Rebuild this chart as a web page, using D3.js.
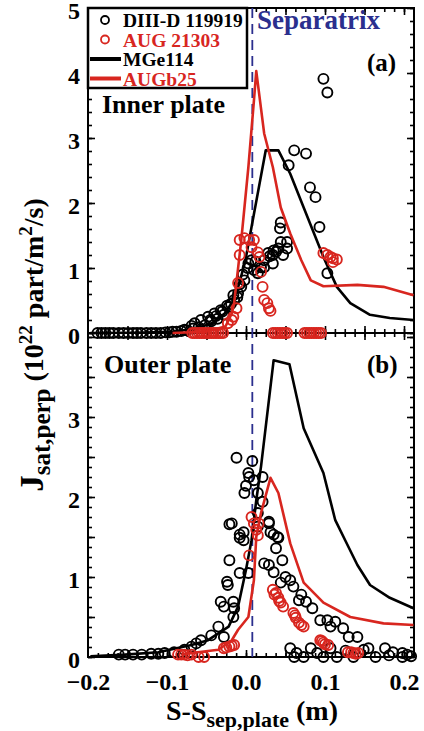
<!DOCTYPE html>
<html>
<head>
<meta charset="utf-8">
<script src="https://cdn.jsdelivr.net/npm/d3@7"></script>
<style>
  body { margin: 0; background: #fff; }
  text { font-family: "Liberation Serif", "Times New Roman", serif; font-weight: bold; }
</style>
</head>
<body>
<div id="chart"></div>
<script>
// tick labels
const xTicks = [-0.2, -0.1, 0.0, 0.1, 0.2];
const yTicksA = [0, 1, 2, 3, 4, 5];
const yTicksB = [0, 1, 2, 3];
const separatrixS = 0.008;

// (a) inner plate, [S-Ssep, Jsat]
const mgeInner = [[-0.197, 0], [-0.143, 0.005], [-0.093, 0.02], [-0.062, 0.07], [-0.042, 0.16], [-0.027, 0.3],
  [-0.017, 0.48], [-0.011, 0.66], [-0.001, 1.1], [0.007, 1.63], [0.025, 2.81], [0.041, 2.81], [0.056, 2.45],
  [0.073, 1.93], [0.098, 1.17], [0.115, 0.71], [0.132, 0.46], [0.157, 0.28], [0.182, 0.23], [0.212, 0.2]];
const augbInner = [[-0.093, 0], [-0.052, 0.02], [-0.026, 0.1], [-0.018, 0.3], [-0.015, 0.46], [-0.006, 1.43],
  [0.003, 2.55], [0.010, 3.57], [0.013, 4.03], [0.023, 3.07], [0.034, 2.55], [0.044, 1.93], [0.056, 1.53],
  [0.070, 1.12], [0.082, 0.81], [0.098, 0.72], [0.141, 0.74], [0.174, 0.71], [0.212, 0.58]];
const diiiInner = [[-0.188, 0], [-0.183, 0], [-0.178, 0], [-0.173, 0], [-0.168, 0], [-0.161, 0], [-0.155, 0],
  [-0.149, 0], [-0.143, 0], [-0.138, 0], [-0.133, 0], [-0.126, 0], [-0.120, 0], [-0.114, 0], [-0.108, 0],
  [-0.102, 0.01], [-0.097, 0.01], [-0.093, 0.02], [-0.088, 0.02], [-0.082, 0.03], [-0.078, 0.05],
  [-0.075, 0.04], [-0.069, 0.11], [-0.067, 0.07], [-0.065, 0.15], [-0.060, 0.09], [-0.057, 0.2], [-0.052, 0.12],
  [-0.048, 0.25], [-0.045, 0.2], [-0.044, 0.18], [-0.040, 0.3], [-0.038, 0.26], [-0.036, 0.22], [-0.032, 0.35],
  [-0.030, 0.33], [-0.028, 0.28], [-0.024, 0.42], [-0.022, 0.4], [-0.019, 0.45], [-0.016, 0.58], [-0.015, 0.51],
  [-0.011, 0.55], [-0.010, 0.61], [-0.008, 0.75], [-0.006, 0.71], [-0.004, 0.9], [-0.002, 0.81], [0.002, 1.0],
  [0.003, 1.07], [0.007, 1.12], [0.010, 0.97], [0.012, 1.1], [0.015, 0.92], [0.019, 1.01], [0.023, 1.01],
  [0.023, 1.12], [0.028, 1.23], [0.030, 1.18], [0.034, 1.07], [0.034, 1.2], [0.035, 1.27], [0.038, 1.25],
  [0.041, 1.3], [0.044, 1.4], [0.047, 1.2], [0.052, 1.3], [0.052, 1.4], [0.043, 1.61], [0.044, 1.7],
  [0.054, 2.58], [0.061, 2.81], [0.076, 2.76], [0.081, 2.24], [0.088, 2.09], [0.093, 1.63], [0.103, 0.92],
  [0.098, 3.91], [0.103, 3.7]];
const augInner = [[-0.068, 0], [-0.065, 0], [-0.062, 0], [-0.059, 0], [-0.056, 0], [-0.053, 0], [-0.050, 0],
  [-0.047, 0], [-0.044, 0], [-0.041, 0], [-0.038, 0], [-0.035, 0], [-0.032, 0], [-0.029, 0],
  [-0.023, 0.15], [-0.018, 0.2], [-0.016, 0.25], [-0.012, 0.38], [-0.010, 0.77], [-0.008, 1.2], [-0.008, 1.43],
  [-0.002, 1.46], [0.004, 1.43], [0.010, 1.43], [0.007, 1.32], [0.015, 1.24], [0.017, 1.17], [0.019, 0.94],
  [0.021, 0.71], [0.023, 0.51], [0.027, 0.46], [0.029, 0.38], [0.031, 0.34],
  [0.034, 0], [0.037, 0], [0.040, 0], [0.043, 0], [0.046, 0], [0.049, 0], [0.052, 0],
  [0.074, 0], [0.077, 0], [0.080, 0], [0.083, 0], [0.086, 0], [0.089, 0], [0.092, 0], [0.095, 0],
  [0.098, 1.23], [0.103, 1.2], [0.107, 1.17], [0.110, 1.15], [0.115, 1.13], [0.110, 1.09]];

// (b) outer plate
const mgeOuter = [[-0.197, 0.01], [-0.153, 0.03], [-0.111, 0.06], [-0.069, 0.15], [-0.048, 0.21], [-0.022, 0.38],
  [-0.010, 0.63], [0.000, 1.09], [0.007, 1.46], [0.013, 1.96], [0.019, 2.38], [0.035, 3.71], [0.055, 3.66],
  [0.073, 2.86], [0.098, 2.3], [0.113, 1.71], [0.126, 1.45], [0.141, 1.15], [0.157, 0.9], [0.182, 0.74], [0.212, 0.61]];
const augbOuter = [[-0.082, 0.03], [-0.069, 0.05], [-0.035, 0.09], [-0.018, 0.21], [-0.010, 0.34], [0.003, 0.5],
  [0.010, 0.96], [0.013, 1.5], [0.019, 1.8], [0.031, 2.24], [0.041, 2.05], [0.056, 1.42], [0.073, 0.93],
  [0.098, 0.68], [0.132, 0.5], [0.174, 0.42], [0.212, 0.4]];
const diiiOuter = [[-0.012, 2.49], [0.008, 2.45], [0.003, 2.3], [0.004, 2.25], [0.021, 2.25], [0.010, 2.21],
  [0.000, 2.14], [-0.002, 2.05], [0.015, 2.05], [0.021, 1.94], [-0.018, 1.67], [-0.003, 1.56], [0.015, 1.8],
  [0.029, 1.69], [0.031, 1.56], [0.040, 1.5], [0.015, 1.63], [-0.008, 1.49], [-0.021, 1.66], [-0.008, 1.53],
  [-0.003, 1.46], [0.029, 1.67], [0.035, 1.53], [0.041, 1.49], [0.038, 1.36], [0.046, 1.21], [0.023, 1.17],
  [0.029, 1.15], [0.035, 1.06], [-0.021, 1.21], [-0.008, 1.05], [0.003, 1.05], [-0.024, 0.94], [-0.023, 0.9],
  [0.044, 0.93], [0.050, 1.0], [0.056, 0.96], [0.060, 0.88], [0.070, 0.78], [0.067, 0.71], [-0.032, 0.69],
  [-0.016, 0.69], [-0.015, 0.61], [-0.028, 0.63], [0.084, 0.61], [0.076, 0.69], [-0.016, 0.5], [-0.035, 0.38],
  [-0.044, 0.27], [-0.028, 0.25], [-0.057, 0.21], [-0.063, 0.17], [-0.069, 0.13], [-0.078, 0.09], [-0.091, 0.06],
  [-0.103, 0.05], [-0.120, 0.04], [-0.132, 0.03], [-0.153, 0.03], [-0.161, 0.03], [-0.143, 0.03], [-0.111, 0.04],
  [0.094, 0.46], [0.103, 0.46], [0.113, 0.44], [0.107, 0.38], [0.123, 0.36], [0.130, 0.25], [0.141, 0.25],
  [0.155, 0.11], [0.176, 0.11], [0.186, 0.06], [0.198, 0.05], [0.204, 0.03], [0.056, 0.11], [0.061, 0],
  [0.073, 0], [0.082, 0.11], [0.098, 0], [0.115, 0], [0.136, 0], [0.164, 0], [0.198, 0], [0.107, 0.11],
  [0.149, 0.09], [0.064, 0.05], [0.090, 0.05], [0.126, 0.08], [0.181, 0.02], [0.209, 0.01]];
const augOuter = [[0.007, 1.75], [0.010, 1.67], [0.013, 1.59], [0.015, 1.52], [0.004, 1.27], [0.016, 1.67],
  [0.034, 0.84], [0.036, 0.78], [0.038, 0.8], [0.041, 0.74], [0.042, 0.7], [0.044, 0.68], [0.047, 0.63],
  [0.060, 0.55], [0.062, 0.52], [0.063, 0.49], [0.067, 0.43], [0.070, 0.4], [0.073, 0.38], [0.094, 0.21],
  [0.096, 0.2], [0.098, 0.18], [0.100, 0.16], [0.104, 0.15], [0.129, 0.06], [0.133, 0.06], [0.136, 0.05],
  [0.139, 0.04], [0.142, 0.05], [-0.028, 0.11], [-0.025, 0.12], [-0.021, 0.13], [-0.018, 0.14], [-0.015, 0.15],
  [-0.086, 0.03], [-0.082, 0.03], [-0.078, 0.03], [-0.074, 0.02], [-0.069, 0.03], [-0.060, 0], [-0.053, 0]];

const legendItems = ["DIII-D 119919", "AUG 21303", "MGe114", "AUGb25"];

const red = "#d8261f", navy = "#2b2f8e";
const width = 424, height = 731;
const frameL = 88, frameR = 414;

const x = d3.scaleLinear().domain([-0.2, 0.2]).range([88, 404]);
const yA = d3.scaleLinear().domain([0, 5]).range([333, 8]);
const yB = d3.scaleLinear().domain([0, 4.05]).range([657, 333]);

const svg = d3.select("#chart").append("svg")
  .attr("width", width).attr("height", height);

function tickAxis(axisFn, scale, values, size, pad, labels) {
  return axisFn(scale).tickValues(values).tickSize(-size).tickPadding(pad)
    .tickFormat(labels ? labels : () => "");
}

function panel(y, yMajor, yMinor, yLabels, xLabels) {
  const [y0, y1] = y.range();
  const g = svg.append("g");
  const xMajor = d3.range(-0.15, 0.2101, 0.05);
  const xMinor = d3.range(-0.1875, 0.2101, 0.0125);
  // left
  g.append("g").attr("transform", `translate(${frameL},0)`)
    .call(tickAxis(d3.axisLeft, y, yMinor, 4, 8));
  g.append("g").attr("class", "ylab").attr("transform", `translate(${frameL},0)`)
    .call(tickAxis(d3.axisLeft, y, yMajor, 7, 8, d => yLabels.includes(d) ? String(d) : ""));
  // right
  g.append("g").attr("transform", `translate(${frameR},0)`)
    .call(tickAxis(d3.axisRight, y, yMinor, 4, 6));
  g.append("g").attr("transform", `translate(${frameR},0)`)
    .call(tickAxis(d3.axisRight, y, yMajor, 7, 6));
  // bottom
  g.append("g").attr("transform", `translate(0,${y0})`)
    .call(tickAxis(d3.axisBottom, x, xMinor, 4, 16));
  g.append("g").attr("transform", `translate(0,${y0})`)
    .call(tickAxis(d3.axisBottom, x, xMajor, 7, 16));
  if (xLabels) {
    g.append("g").attr("transform", `translate(0,${y0})`)
      .call(tickAxis(d3.axisBottom, x, xTicks, 0, 16, d3.format(".1f")));
  }
  // top
  g.append("g").attr("transform", `translate(0,${y1})`)
    .call(tickAxis(d3.axisTop, x, xMinor, 4, 6));
  g.append("g").attr("transform", `translate(0,${y1})`)
    .call(tickAxis(d3.axisTop, x, xMajor, 7, 6));
  g.selectAll(".domain").remove();
  g.selectAll(".tick line").attr("stroke", "#000").attr("stroke-width", 1.6);
  g.selectAll("text").attr("font-size", 24).attr("fill", "#000");
  g.selectAll(".ylab text").attr("dy", "0.45em");
  g.append("rect").attr("x", frameL).attr("y", y1)
    .attr("width", frameR - frameL).attr("height", y0 - y1)
    .attr("fill", "none").attr("stroke", "#000").attr("stroke-width", 2);
  return g;
}

panel(yB, d3.range(0, 4.01, 0.5), d3.range(0, 4.01, 0.125), yTicksB, true);
panel(yA, yTicksA, d3.range(0, 5.01, 0.2), yTicksA, false);

// separatrix
svg.append("line")
  .attr("x1", x(separatrixS)).attr("x2", x(separatrixS)).attr("y1", yA(5)).attr("y2", yB(0))
  .attr("stroke", navy).attr("stroke-width", 1.8).attr("stroke-dasharray", "10,6");

function drawLine(data, y, color) {
  svg.append("path").datum(data)
    .attr("fill", "none").attr("stroke", color).attr("stroke-width", 2.6)
    .attr("stroke-linejoin", "round")
    .attr("d", d3.line().x(d => x(d[0])).y(d => y(d[1])));
}
function drawDots(data, y, color) {
  svg.append("g").selectAll("circle").data(data).join("circle")
    .attr("cx", d => x(d[0])).attr("cy", d => y(d[1])).attr("r", 5)
    .attr("fill", "none").attr("stroke", color).attr("stroke-width", 1.9);
}

drawDots(diiiInner, yA, "#000");
drawLine(mgeInner, yA, "#000");
drawLine(augbInner, yA, red);
drawDots(augInner, yA, red);

drawDots(diiiOuter, yB, "#000");
drawLine(mgeOuter, yB, "#000");
drawLine(augbOuter, yB, red);
drawDots(augOuter, yB, red);

// annotations
svg.append("text").attr("x", 257).attr("y", 29).attr("font-size", 27).attr("fill", navy).text("Separatrix");
svg.append("text").attr("x", 367).attr("y", 71).attr("font-size", 25).text("(a)");
svg.append("text").attr("x", 367).attr("y", 373).attr("font-size", 25).text("(b)");
svg.append("text").attr("x", 102).attr("y", 113).attr("font-size", 26).text("Inner plate");
svg.append("text").attr("x", 104).attr("y", 373).attr("font-size", 26).text("Outer plate");

// legend
const lg = svg.append("g");
lg.append("rect").attr("x", 88).attr("y", 8).attr("width", 159).attr("height", 80)
  .attr("fill", "#fff").attr("stroke", "#000").attr("stroke-width", 2.5);
const legendColors = ["#000", red, "#000", red];
legendItems.forEach((name, i) => {
  const cy = 20 + i * 19.5;
  if (i < 2) {
    lg.append("circle").attr("cx", 105).attr("cy", cy).attr("r", 4)
      .attr("fill", "none").attr("stroke", legendColors[i]).attr("stroke-width", 1.8);
  } else {
    lg.append("line").attr("x1", 90).attr("x2", 121).attr("y1", cy).attr("y2", cy)
      .attr("stroke", legendColors[i]).attr("stroke-width", 4);
  }
  lg.append("text").attr("x", 123).attr("y", cy + 7).attr("font-size", 19.5)
    .attr("fill", legendColors[i]).text(name);
});

// axis titles
const yt = svg.append("text").attr("transform", "translate(43,345) rotate(-90)")
  .attr("text-anchor", "middle").attr("font-size", 28);
yt.append("tspan").attr("font-size", 33).text("J");
yt.append("tspan").attr("font-size", 25).attr("dy", 7).text("sat,perp");
yt.append("tspan").attr("dy", -7).text(" (10");
yt.append("tspan").attr("font-size", 19).attr("dy", -11).text("22");
yt.append("tspan").attr("dy", 11).text(" part/m");
yt.append("tspan").attr("font-size", 19).attr("dy", -11).text("2");
yt.append("tspan").attr("dy", 11).text("/s)");

const xt = svg.append("text").attr("x", 252).attr("y", 720)
  .attr("text-anchor", "middle").attr("font-size", 28);
xt.append("tspan").text("S-S");
xt.append("tspan").attr("font-size", 22).attr("dy", 7).text("sep,plate");
xt.append("tspan").attr("dy", -7).text(" (m)");
</script>
</body>
</html>
